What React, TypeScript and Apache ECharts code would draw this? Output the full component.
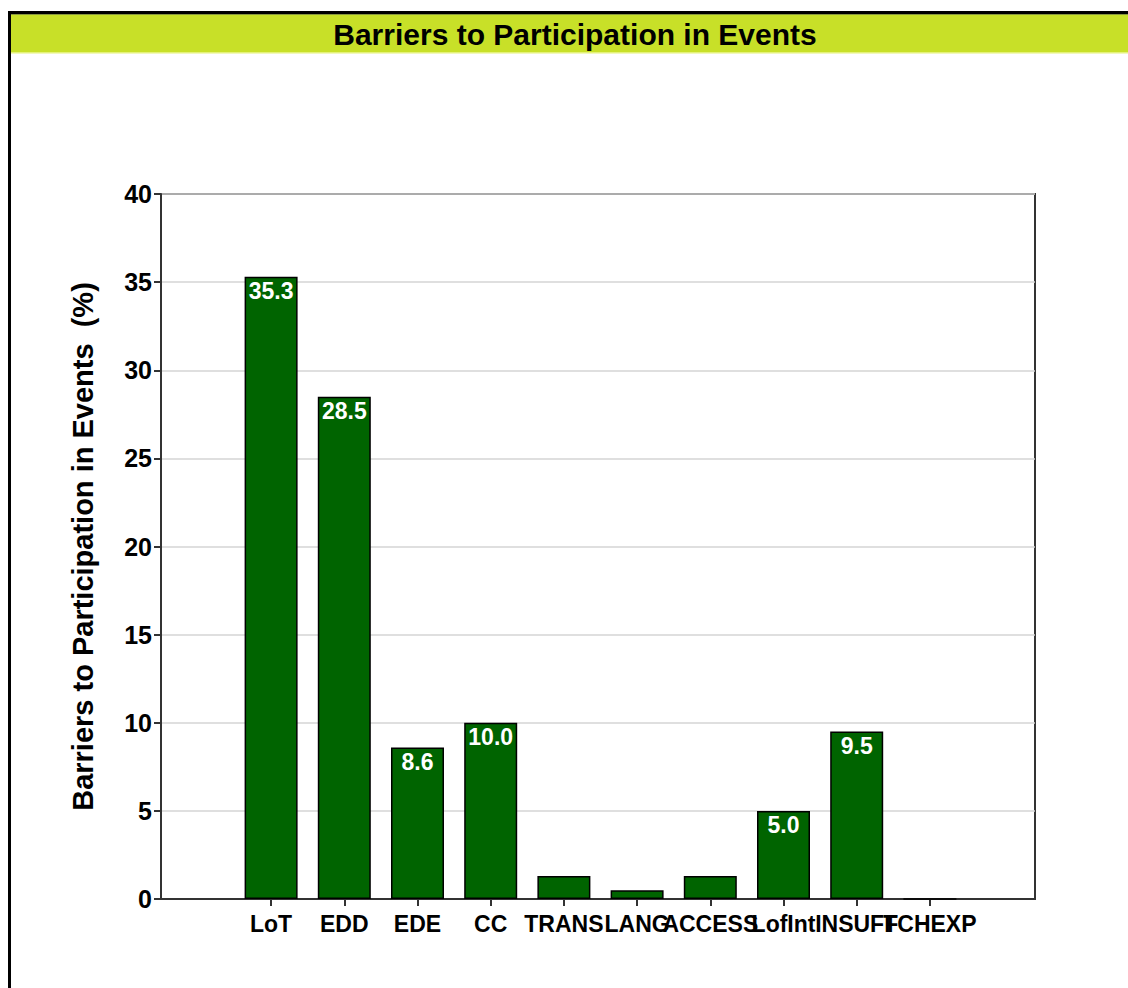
import React, { useEffect, useRef } from "react";
import * as echarts from "echarts";

const categories = ["LoT", "EDD", "EDE", "CC", "TRANS", "LANG", "ACCESS", "LofInt", "INSUFF", "TCHEXP"];
const values = [35.3, 28.5, 8.6, 10.0, 1.3, 0.5, 1.3, 5.0, 9.5, 0];
const yTicks = { min: 0, max: 40, interval: 5 };
const titleText = "Barriers to Participation in Events";
const yAxisName = "Barriers to Participation in Events  (%)";
const labelThreshold = 2;

const FONT = "'Liberation Sans', Arial, Helvetica, sans-serif";

export default function App() {
  const ref = useRef<HTMLDivElement>(null);

  useEffect(() => {
    if (!ref.current) return;
    const chart = echarts.init(ref.current, null, { renderer: "svg" });
    const axisLineStyle = { color: "#333", width: 2 };
    chart.setOption({
      animation: false,
      backgroundColor: "#fff",
      textStyle: { fontFamily: FONT },
      grid: [
        { left: 161, top: 194, width: 874, height: 705, show: true, borderColor: "#333", borderWidth: 2, backgroundColor: "transparent" },
        { left: 234.5, top: 194, width: 732, height: 705 },
      ],
      xAxis: [
        {
          type: "value", gridIndex: 0, min: 0, max: 1,
          axisLine: { show: true, lineStyle: axisLineStyle },
          axisTick: { show: false }, axisLabel: { show: false }, splitLine: { show: false },
        },
        {
          type: "category", gridIndex: 1, data: categories,
          axisLine: { show: false },
          axisTick: { show: true, alignWithLabel: true, length: 7, lineStyle: { color: "#333", width: 2 } },
          axisLabel: { color: "#000", fontWeight: "bold", fontSize: 23, margin: 13, fontFamily: FONT, interval: 0 },
        },
      ],
      yAxis: [
        {
          type: "value", gridIndex: 0, min: yTicks.min, max: yTicks.max, interval: yTicks.interval,
          name: yAxisName, nameLocation: "middle", nameGap: 64, nameRotate: 90,
          nameTextStyle: { color: "#000", fontWeight: "bold", fontSize: 29, fontFamily: FONT },
          axisLine: { show: true, lineStyle: axisLineStyle },
          axisTick: { show: true, length: 7, lineStyle: { color: "#333", width: 2 } },
          axisLabel: { color: "#000", fontWeight: "bold", fontSize: 25, margin: 9, fontFamily: FONT },
          splitLine: { show: true, lineStyle: { color: "#d4d4d4", width: 1.5 } },
        },
        {
          type: "value", gridIndex: 1, min: yTicks.min, max: yTicks.max, interval: yTicks.interval,
          show: false, splitLine: { show: false },
        },
      ],
      series: [
        {
          type: "bar", xAxisIndex: 1, yAxisIndex: 1, data: values, barWidth: 53,
          itemStyle: { color: "#006400", borderColor: "#000", borderWidth: 1.5 },
          label: {
            show: true, position: "insideTop", distance: 3, color: "#fff", fontWeight: "bold",
            fontSize: 23, fontFamily: FONT,
            formatter: (p: any) => (p.value >= labelThreshold ? Number(p.value).toFixed(1) : ""),
          },
        },
      ],
      graphic: [
        { type: "rect", shape: { x: 8, y: 11, width: 1120, height: 3 }, style: { fill: "#000" } },
        { type: "rect", shape: { x: 8, y: 11, width: 3, height: 977 }, style: { fill: "#000" } },
        { type: "rect", shape: { x: 11, y: 14, width: 1117, height: 1 }, style: { fill: "#8a9a40" } },
        { type: "rect", shape: { x: 11, y: 15, width: 1117, height: 37 }, style: { fill: "#c8e028" } },
        { type: "rect", shape: { x: 11, y: 52, width: 1117, height: 1.5 }, style: { fill: "#e4f27a" } },
        {
          type: "text", x: 575, y: 34,
          style: { text: titleText, fill: "#000", font: `bold 30px ${FONT}`, textAlign: "center", textVerticalAlign: "middle" },
        },
      ],
    });
    return () => chart.dispose();
  }, []);

  return <div ref={ref} style={{ position: "fixed", left: 0, top: 0, width: 1128, height: 988 }} />;
}
